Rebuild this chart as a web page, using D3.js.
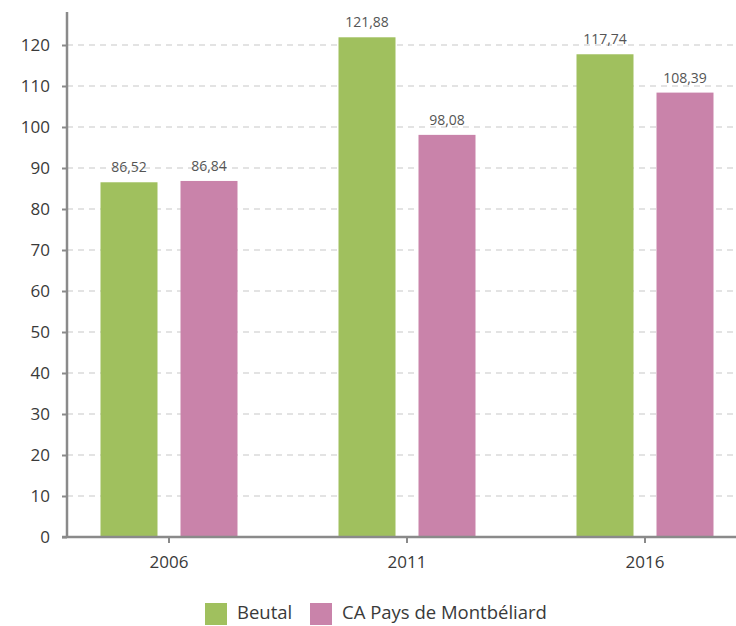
<!DOCTYPE html>
<html><head><meta charset="utf-8">
<script src="https://cdn.jsdelivr.net/npm/d3@7"></script>
<style>body{margin:0;background:#fff;}svg{display:block;font-family:"Open Sans",sans-serif;}</style>
</head><body><svg id="c" width="736" height="626"></svg>
<script>
const categories = ["2006","2011","2016"];
const seriesNames = ["Beutal","CA Pays de Montbéliard"];
const beutal = [86.52,121.88,117.74];
const caPays = [86.84,98.08,108.39];
const yTicks = [0,10,20,30,40,50,60,70,80,90,100,110,120];
const colors = ["#a0c05e","#c983aa"];

const svg = d3.select("#c");
const x = d3.scaleBand().domain(categories).range([50,764]).padding(0);
const bw = x.bandwidth();
const xs = d3.scaleBand().domain(seriesNames).range([bw/2-68.5,bw/2+68.5]).paddingInner(0.2875).paddingOuter(0);
const y = d3.scaleLinear().domain([0,120]).range([537,45]);
const fmt = v => v.toFixed(2).replace(".",",");

// grid
svg.append("g").selectAll("line").data(yTicks.filter(t=>t>0)).join("line")
  .attr("x1",67).attr("x2",736).attr("y1",d=>y(d)).attr("y2",d=>y(d))
  .attr("stroke","#c8c8c8").attr("stroke-width",1.2).attr("stroke-dasharray","6,5");

// bars
const data = categories.map((c,i)=>({c, vals:[beutal[i],caPays[i]]}));
const g = svg.append("g").selectAll("g").data(data).join("g").attr("transform",d=>`translate(${x(d.c)},0)`);
g.selectAll("rect").data(d=>d.vals.map((v,j)=>({v,s:seriesNames[j],j}))).join("rect")
  .attr("x",d=>xs(d.s)).attr("width",xs.bandwidth())
  .attr("y",d=>y(d.v)).attr("height",d=>y(0)-y(d.v)).attr("fill",d=>colors[d.j]);
g.selectAll("text").data(d=>d.vals.map((v,j)=>({v,s:seriesNames[j],j}))).join("text")
  .attr("x",d=>xs(d.s)+xs.bandwidth()/2).attr("y",d=>y(d.v)-10)
  .attr("text-anchor","middle").attr("font-size",14).attr("fill","#555").text(d=>fmt(d.v));

// y axis
const ya = svg.append("g").attr("transform","translate(67,0)")
  .call(d3.axisLeft(y).tickValues(yTicks).tickSize(5).tickPadding(12).tickFormat(d3.format("d")));
ya.select(".domain").attr("d","M0,12V537").attr("stroke","#8a8a8a").attr("stroke-width",2.5);
ya.selectAll(".tick line").attr("stroke","#8a8a8a").attr("stroke-width",2);
ya.selectAll(".tick text").attr("font-size",17).attr("fill","#3a3a3a").attr("font-family","Open Sans, sans-serif");

// x axis
const xa = svg.append("g").attr("transform","translate(0,537)")
  .call(d3.axisBottom(x).tickSize(6).tickPadding(13));
xa.select(".domain").attr("d","M62,0H736").attr("stroke","#8a8a8a").attr("stroke-width",2.5);
xa.selectAll(".tick line").attr("stroke","#8a8a8a").attr("stroke-width",2);
xa.selectAll(".tick text").attr("font-size",17).attr("fill","#3a3a3a").attr("font-family","Open Sans, sans-serif");

// legend
const leg = svg.append("g");
const legX = [205,310];
seriesNames.forEach((s,i)=>{
  leg.append("rect").attr("x",legX[i]).attr("y",603).attr("width",22).attr("height",22).attr("fill",colors[i]);
  leg.append("text").attr("x",legX[i]+32).attr("y",619).attr("font-size",18.5).attr("fill","#3a3a3a").text(s);
});
</script></body></html>
